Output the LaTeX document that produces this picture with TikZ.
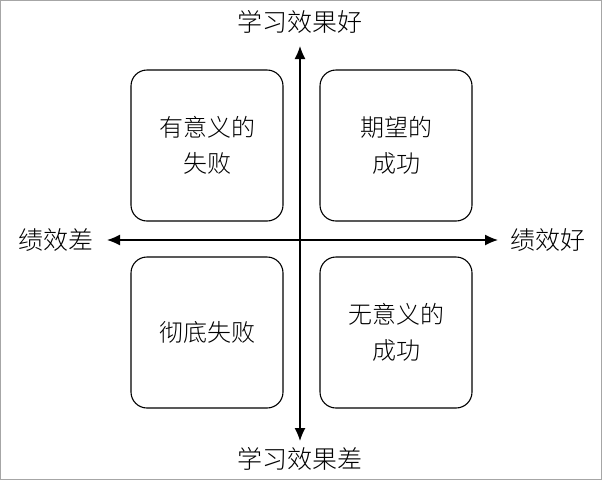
\documentclass[tikz,border=0pt]{standalone}
\usepackage{fontspec}
\newfontfamily\cjk{Noto Sans CJK SC Light}
\usetikzlibrary{arrows.meta}
\begin{document}
\begin{tikzpicture}[x=1pt,y=-1pt,
  quad/.style={draw,line width=1.1pt,rounded corners=16pt,minimum width=152pt,minimum height=151pt,align=center,font=\cjk\fontsize{24}{36}\selectfont},
  lab/.style={font=\cjk\fontsize{25}{28}\selectfont,inner sep=0pt},
  axis/.style={line width=1.3pt,-{Latex[length=13pt,width=11pt]}}]
\useasboundingbox (0,0) rectangle (602,480);
\draw[gray!70,line width=0.8pt] (0.5,0.5) rectangle (601.5,479.5);
\node[quad] (tl) at (207,145.5) {有意义的\\失败};
\node[quad] (tr) at (396,145.5) {期望的\\成功};
\node[quad] (bl) at (207,332.5) {彻底失败};
\node[quad] (br) at (396,332.5) {无意义的\\成功};
\coordinate (c) at (300,240);
\node[lab] (top) at (300,22) {学习效果好};
\node[lab] (bot) at (300,459) {学习效果差};
\node[lab] (left) at (56,240) {绩效差};
\node[lab] (right) at (548,240) {绩效好};
\coordinate (ht) at (300,46);
\coordinate (hb) at (300,441);
\coordinate (hl) at (107,240);
\coordinate (hr) at (498,240);
\draw[axis] (c) -- (ht);
\draw[axis] (c) -- (hb);
\draw[axis] (c) -- (hl);
\draw[axis] (c) -- (hr);
\end{tikzpicture}
\end{document}
